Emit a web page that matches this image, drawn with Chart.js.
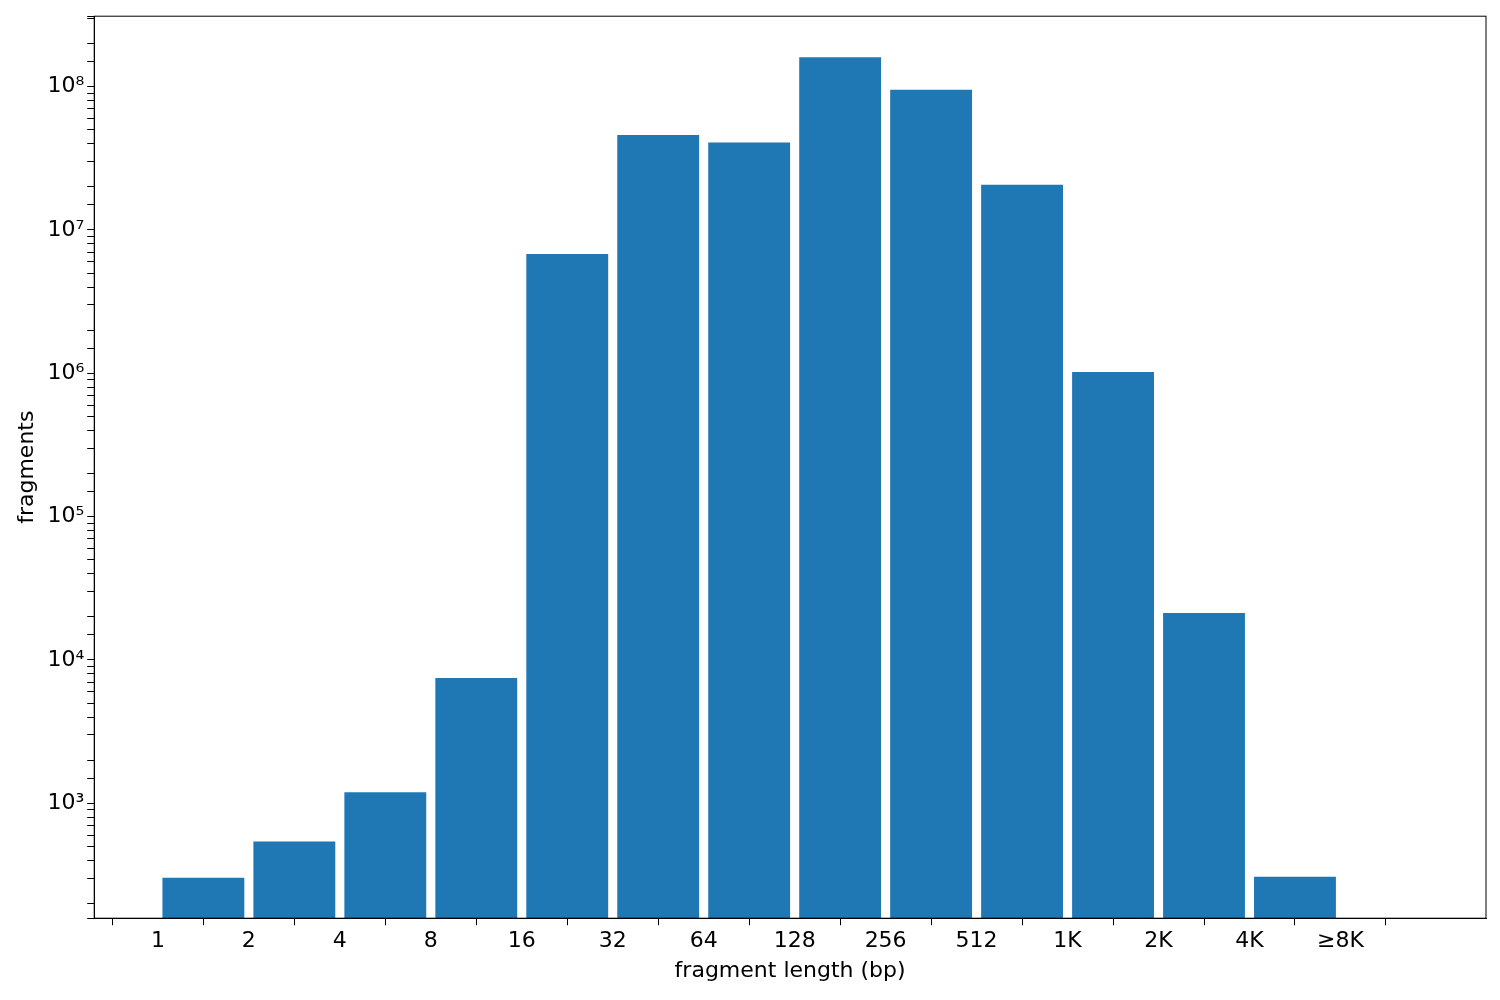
<!DOCTYPE html>
<html><head><meta charset="utf-8">
<script src="https://cdn.jsdelivr.net/npm/chart.js@4"></script>
<style>html,body{margin:0;padding:0;background:#fff}#w{width:1500px;height:1000px}</style>
</head><body><div id="w"><canvas id="c"></canvas></div>
<script>
const tickLabels = ["1","2","4","8","16","32","64","128","256","512","1K","2K","4K","≥8K"];
const counts = [303, 542, 1194, 7500, 6.8e6, 4.6e7, 4.07e7, 1.6e8, 9.5e7, 2.07e7, 1.02e6, 2.13e4, 308];
const sup = {"0":"⁰","1":"¹","2":"²","3":"³","4":"⁴","5":"⁵","6":"⁶","7":"⁷","8":"⁸","9":"⁹"};
const font = {family:"DejaVu Sans", size:22};
Chart.defaults.color = "#000";
const box = {id:"box", afterDraw(ch){const a=ch.chartArea,c=ch.ctx;c.save();c.strokeStyle="#000";c.lineWidth=1;c.strokeRect(a.left,a.top,a.right-a.left,a.bottom-a.top);c.restore();}};
new Chart(document.getElementById("c"), {
  type:"bar",
  data:{datasets:[{data:counts.map((v,i)=>({x:i+0.5,y:v})), backgroundColor:"#1f77b4", categoryPercentage:0.9, barPercentage:1, borderWidth:0}]},
  options:{
    responsive:true, maintainAspectRatio:false, animation:false,
    layout:{padding:{top:15,right:14,left:10,bottom:12}},
    plugins:{legend:{display:false}, tooltip:{enabled:false}},
    scales:{
      x:{type:"linear", min:-0.7, max:14.6, offset:false,
        afterBuildTicks(s){s.ticks=tickLabels.map((_,i)=>({value:i}));},
        ticks:{font, autoSkip:false, maxRotation:0, callback:(v)=>tickLabels[v]},
        grid:{drawOnChartArea:false, tickLength:7, color:"#000"}, border:{color:"#000"},
        title:{display:true, text:"fragment length (bp)", font, padding:{top:0}}},
      y:{type:"logarithmic", min:158, max:3.1e8,
        ticks:{font, autoSkip:false, callback:(v)=>{const l=Math.log10(v);if(Math.abs(l-Math.round(l))<1e-9){return "10"+String(Math.round(l)).split("").map(d=>sup[d]).join("");}return "";}},
        grid:{drawOnChartArea:false, tickLength:7, color:"#000"}, border:{color:"#000"},
        title:{display:true, text:"fragments", font, padding:{bottom:4}}}
    }
  },
  plugins:[box]
});
</script></body></html>
